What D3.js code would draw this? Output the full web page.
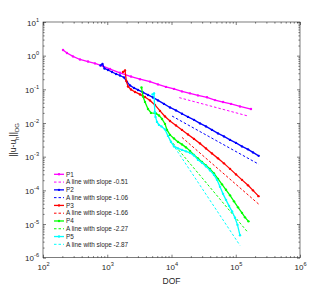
<!DOCTYPE html>
<html>
<head>
<meta charset="utf-8">
<script src="https://cdn.jsdelivr.net/npm/d3@7"></script>
<style>
body { margin: 0; background: #fff; }
svg { display: block; font-family: Arial, "Liberation Sans", sans-serif; }
</style>
</head>
<body>
<svg class="conv_chart" width="332" height="290"></svg>
<script>
// series (DOF, ||u-u_h||_DG)
var dof1 = [205, 236, 293, 376, 502, 644, 858, 1105, 1578, 2343, 3236, 4627, 6166, 8204, 10940, 14560, 19400, 25830, 35700, 47550, 63400, 84400, 116400, 172600];
var err1 = [1.48, 1.20, 0.95, 0.77, 0.67, 0.59, 0.49, 0.40, 0.31, 0.24, 0.20, 0.17, 0.14, 0.118, 0.103, 0.087, 0.076, 0.066, 0.058, 0.048, 0.042, 0.037, 0.031, 0.026];

var dof2 = [785, 843, 906, 1027, 1186, 1368, 1579, 1823, 2029, 2259, 2608, 3010, 3600, 4307, 5152, 6166, 7642, 9480, 11750, 14560, 18060, 22390, 27790, 34430, 42660, 52970, 65610, 81470, 100900, 125000, 155200, 185400, 227500];
var err2 = [0.512, 0.567, 0.417, 0.376, 0.328, 0.286, 0.258, 0.226, 0.166, 0.131, 0.110, 0.0960, 0.0809, 0.0682, 0.0575, 0.0469, 0.0369, 0.0290, 0.0237, 0.0189, 0.0152, 0.0124, 0.00973, 0.00793, 0.00624, 0.00491, 0.00400, 0.00315, 0.00257, 0.00202, 0.00165, 0.00134, 0.00106];

var dof3 = [1758, 1889, 1980, 2103, 2343, 2704, 3236, 3870, 4627, 5534, 6622, 7925, 9480, 11750, 14560, 18060, 22390, 27790, 34430, 42660, 52970, 65610, 81470, 100900, 125000, 155200, 185400, 226000];
var err3 = [0.328, 0.364, 0.178, 0.122, 0.0993, 0.0837, 0.0706, 0.0595, 0.0469, 0.0344, 0.0229, 0.0157, 0.0115, 0.00849, 0.00624, 0.00459, 0.00338, 0.00248, 0.00176, 0.00125, 0.000891, 0.000633, 0.000435, 0.000298, 0.000205, 0.000141, 0.000100, 0.0000673];

var dof4 = [3412, 3600, 3870, 4307, 4797, 5741, 6388, 7112, 7925, 8511, 9480, 10940, 12620, 14560, 16820, 19410, 22390, 25840, 29850, 34430, 39720, 45840, 52970, 61090, 70470, 81470, 93970, 108400, 125000, 139300, 157800];
var err4 = [0.114, 0.0616, 0.0423, 0.0262, 0.0200, 0.0193, 0.0168, 0.0132, 0.00940, 0.00624, 0.00444, 0.00349, 0.00275, 0.00232, 0.00189, 0.00149, 0.00113, 0.000891, 0.000701, 0.000552, 0.000435, 0.000319, 0.000219, 0.000151, 0.000104, 0.0000711, 0.0000472, 0.0000313, 0.0000215, 0.0000158, 0.0000120];

var dof5 = [5058, 5345, 5497, 5636, 5946, 6388, 6985, 7925, 8826, 9821, 10940, 12620, 14560, 16820, 19410, 22390, 25840, 29850, 34430, 39720, 45840, 51070, 56890, 63360, 70470, 78520, 87470, 97280, 106400, 116400];
var err5 = [0.0706, 0.0756, 0.0214, 0.0152, 0.0108, 0.00879, 0.00793, 0.00646, 0.00414, 0.00275, 0.00202, 0.00176, 0.00159, 0.00144, 0.00130, 0.00109, 0.000804, 0.000655, 0.000515, 0.000392, 0.000288, 0.000205, 0.000127, 0.0000787, 0.0000523, 0.0000347, 0.0000238, 0.0000153, 0.00000946, 0.00000462];

// reference lines: slope, DOF range, error at the first DOF
var refSlope = [-0.51, -1.06, -1.66, -2.27, -2.87];
var refDof0 = [13200, 10200, 14560, 9480, 9480];
var refDof1 = [155000, 227500, 227500, 153500, 116400];
var refErr0 = [0.0567, 0.0161, 0.00374, 0.00319, 0.00309];

var names = ["P1", "P2", "P3", "P4", "P5"];
var xTicks = [1e2, 1e3, 1e4, 1e5, 1e6];
var yTicks = [1e-6, 1e-5, 1e-4, 1e-3, 1e-2, 1e-1, 1e0, 1e1];

var colors = ["#ff00ff", "#0000ff", "#ff0000", "#00ff00", "#00ffff"];
var ink = "#262626";

var svg = d3.select(".conv_chart");
var margin = { top: 22, right: 32, bottom: 32.3, left: 43 };
var width = +svg.attr("width") - margin.left - margin.right;
var height = +svg.attr("height") - margin.top - margin.bottom;
var g = svg.append("g").attr("transform", "translate(" + margin.left + "," + margin.top + ")");

var x = d3.scaleLog().domain([1e2, 1e6]).range([0, width]);
var y = d3.scaleLog().domain([1e-6, 1e1]).range([height, 0]);

var minorX = x.ticks().filter(function (d) { return xTicks.indexOf(d) < 0; });
var minorY = y.ticks().filter(function (d) { return yTicks.indexOf(d) < 0; });

function styleAxis(sel) {
	sel.select(".domain").remove();
	sel.selectAll(".tick line").attr("stroke", ink).attr("stroke-width", 0.6);
}

function expLabels(sel, dx) {
	sel.selectAll(".tick text").each(function (d) {
		var t = d3.select(this);
		t.text(null).attr("fill", ink).attr("font-size", 8);
		t.append("tspan").text("10");
		t.append("tspan").attr("dy", -4).attr("font-size", 5.6).text(Math.round(Math.log10(d)));
	});
}

// bottom + top
g.append("g").attr("transform", "translate(0," + height + ")")
	.call(d3.axisBottom(x).tickValues(xTicks).tickSize(-3).tickPadding(10))
	.call(styleAxis)
	.call(expLabels)
	.selectAll(".tick text").attr("dy", "0.3em");
g.append("g").attr("transform", "translate(0," + height + ")")
	.call(d3.axisBottom(x).tickValues(minorX).tickSize(-1.6).tickFormat(""))
	.call(styleAxis);
g.append("g")
	.call(d3.axisTop(x).tickValues(xTicks).tickSize(-3).tickFormat(""))
	.call(styleAxis);
g.append("g")
	.call(d3.axisTop(x).tickValues(minorX).tickSize(-1.6).tickFormat(""))
	.call(styleAxis);

// left + right
g.append("g")
	.call(d3.axisLeft(y).tickValues(yTicks).tickSize(-3).tickPadding(4))
	.call(styleAxis)
	.call(expLabels)
	.selectAll(".tick text").attr("dy", "0.4em");
g.append("g")
	.call(d3.axisLeft(y).tickValues(minorY).tickSize(-1.6).tickFormat(""))
	.call(styleAxis);
g.append("g").attr("transform", "translate(" + width + ",0)")
	.call(d3.axisRight(y).tickValues(yTicks).tickSize(-3).tickFormat(""))
	.call(styleAxis);
g.append("g").attr("transform", "translate(" + width + ",0)")
	.call(d3.axisRight(y).tickValues(minorY).tickSize(-1.6).tickFormat(""))
	.call(styleAxis);

g.append("rect")
	.attr("width", width).attr("height", height)
	.attr("fill", "none").attr("stroke", ink).attr("stroke-width", 0.6);

// axis titles
g.append("text")
	.attr("x", width / 2).attr("y", height + 26)
	.attr("text-anchor", "middle")
	.attr("font-size", 8.5).attr("fill", ink)
	.text("DOF");

var ylab = g.append("text")
	.attr("transform", "translate(-27," + (height / 2) + ") rotate(-90)")
	.attr("text-anchor", "middle")
	.attr("font-size", 8.5).attr("fill", ink);
ylab.append("tspan").text("||u-u");
ylab.append("tspan").attr("dy", 2.5).attr("font-size", 6).text("h");
ylab.append("tspan").attr("dy", -2.5).text("||");
ylab.append("tspan").attr("dy", 2.5).attr("font-size", 6).text("DG");

var line = d3.line()
	.x(function (d) { return x(d[0]); })
	.y(function (d) { return y(d[1]); });

var series = [[dof1, err1], [dof2, err2], [dof3, err3], [dof4, err4], [dof5, err5]].map(function (s, i) {
	return { id: names[i], values: s[0].map(function (v, j) { return [v, s[1][j]]; }) };
});

// reference lines
refSlope.forEach(function (k, i) {
	var e1 = refErr0[i] * Math.pow(refDof1[i] / refDof0[i], k);
	g.append("path")
		.attr("d", line([[refDof0[i], refErr0[i]], [refDof1[i], e1]]))
		.attr("fill", "none")
		.attr("stroke", colors[i])
		.attr("stroke-width", 1)
		.attr("stroke-dasharray", "2.5,2");
});

var sg = g.selectAll(".series")
	.data(series)
	.enter().append("g")
		.attr("class", "series");

sg.append("path")
	.attr("d", function (d) { return line(d.values); })
	.attr("fill", "none")
	.attr("stroke", function (d, i) { return colors[i]; })
	.attr("stroke-width", 1.3);

sg.each(function (d, i) {
	d3.select(this).selectAll("circle")
		.data(d.values)
		.enter().append("circle")
			.attr("cx", function (p) { return x(p[0]); })
			.attr("cy", function (p) { return y(p[1]); })
			.attr("r", 1.2)
			.attr("fill", colors[i]);
});

// legend
var legend = g.append("g").attr("transform", "translate(11,152.3)");
names.forEach(function (n, i) {
	var r0 = i * 2 * 7.78, r1 = r0 + 7.78;
	legend.append("line")
		.attr("x1", 0).attr("x2", 10).attr("y1", r0).attr("y2", r0)
		.attr("stroke", colors[i]).attr("stroke-width", 1.3);
	legend.append("circle").attr("cx", 5).attr("cy", r0).attr("r", 1.2).attr("fill", colors[i]);
	legend.append("text").attr("x", 12).attr("y", r0).attr("dy", "0.35em")
		.attr("font-size", 6.4).attr("fill", ink).text(n);
	legend.append("line")
		.attr("x1", 0).attr("x2", 10).attr("y1", r1).attr("y2", r1)
		.attr("stroke", colors[i]).attr("stroke-width", 1)
		.attr("stroke-dasharray", "2.5,2");
	legend.append("text").attr("x", 12).attr("y", r1).attr("dy", "0.35em")
		.attr("font-size", 6.4).attr("fill", ink).text("A line with slope " + refSlope[i].toFixed(2));
});
</script>
</body>
</html>
